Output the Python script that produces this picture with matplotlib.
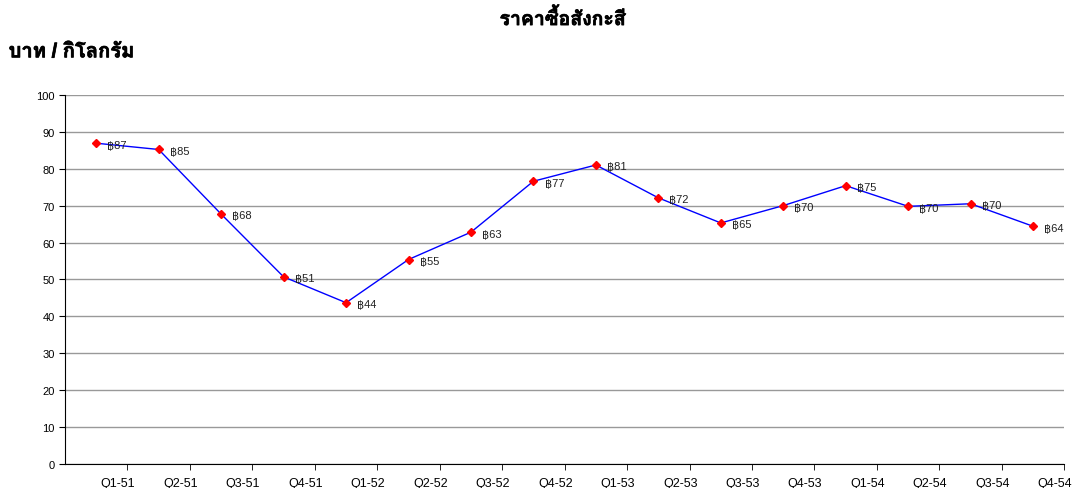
import matplotlib
matplotlib.use("Agg")
import matplotlib.pyplot as plt
import matplotlib.patheffects as pe
from matplotlib import font_manager
from matplotlib.ft2font import FT2Font
import numpy as np

quarters = ["Q1-51", "Q2-51", "Q3-51", "Q4-51", "Q1-52", "Q2-52", "Q3-52", "Q4-52",
            "Q1-53", "Q2-53", "Q3-53", "Q4-53", "Q1-54", "Q2-54", "Q3-54", "Q4-54"]
price = [86.9, 85.2, 67.7, 50.7, 43.7, 55.4, 62.8, 76.6,
         81.0, 72.1, 65.3, 70.0, 75.4, 69.8, 70.5, 64.4]


# find any installed family that carries Thai glyphs
def thai_family():
    for path in sorted(font_manager.findSystemFonts()):
        try:
            if 0x0E01 in FT2Font(path).get_charmap():
                return font_manager.FontProperties(fname=path).get_name()
        except Exception:
            pass
    return None


thai = thai_family()
fams = ['Liberation Sans', 'DejaVu Sans']
if thai:
    fams.append(thai)
plt.rcParams['font.family'] = fams

fig = plt.figure(figsize=(10.78, 4.89), dpi=100)
ax = fig.add_axes([0.0603, 0.049, 0.927, 0.755])

x = np.arange(len(quarters))
ax.plot(x, price, color='blue', lw=1, marker='D', ms=4,
        mfc='red', mec='red', zorder=3)
for xi, v in zip(x, price):
    ax.annotate('฿%d' % round(v), (xi, v), xytext=(8, -1), textcoords='offset points',
                fontsize=8, va='center', ha='left', color='#222222')

ax.set_xlim(-0.5, len(quarters) - 0.5)
ax.set_ylim(0, 100)
ax.set_yticks(range(0, 101, 10))
ax.yaxis.grid(True, color='#999999', lw=1)
ax.set_axisbelow(True)
# tick marks on category borders, labels a bit to their left
ax.set_xticks(x + 0.5, minor=True)
ax.set_xticks(x + 0.35)
ax.set_xticklabels(quarters)
ax.tick_params(axis='both', labelsize=8, length=4, color='black')
ax.tick_params(axis='x', which='major', labelsize=9, length=0, pad=9)
ax.tick_params(axis='x', which='minor', length=4, color='black')
for s in ['top', 'right']:
    ax.spines[s].set_visible(False)
ax.spines['left'].set_color('black')
ax.spines['bottom'].set_color('black')

bold = [pe.withStroke(linewidth=0.5, foreground='black')]
fig.text(0.522, 0.96, 'ราคาซื้อสังกะสี', ha='center', va='center',
         fontsize=14, fontweight='bold', path_effects=bold)
fig.text(0.008, 0.892, 'บาท / กิโลกรัม', ha='left', va='center',
         fontsize=14.5, fontweight='bold', path_effects=bold)

fig.savefig('out.png', dpi=100)
